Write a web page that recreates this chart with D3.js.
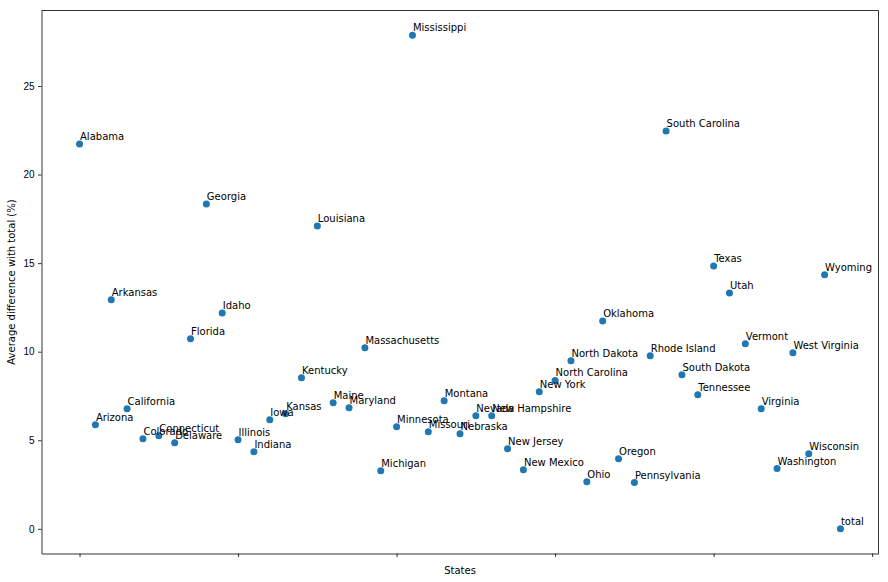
<!DOCTYPE html>
<html>
<head>
<meta charset="utf-8">
<script src="https://cdn.jsdelivr.net/npm/d3@7"></script>
<style>
	body { margin: 0; background: #fff; }
	svg { font-family: "DejaVu Sans", sans-serif; }
	.tick text { font-size: 10px; fill: #000; }
	.tick line, .domain { stroke: #000; stroke-width: 0.8; }
</style>
</head>
<body>
<div id="chart"></div>
<script>
// ---------- DATA ----------
const states = [
	"Alabama", "Arizona", "Arkansas", "California", "Colorado", "Connecticut",
	"Delaware", "Florida", "Georgia", "Idaho", "Illinois", "Indiana", "Iowa",
	"Kansas", "Kentucky", "Louisiana", "Maine", "Maryland", "Massachusetts",
	"Michigan", "Minnesota", "Mississippi", "Missouri", "Montana", "Nebraska",
	"Nevada", "New Hampshire", "New Jersey", "New Mexico", "New York",
	"North Carolina", "North Dakota", "Ohio", "Oklahoma", "Oregon",
	"Pennsylvania", "Rhode Island", "South Carolina", "South Dakota",
	"Tennessee", "Texas", "Utah", "Vermont", "Virginia", "Washington",
	"West Virginia", "Wisconsin", "Wyoming", "total",
];
const avgDiff = [
	21.73, 5.88, 12.93, 6.78, 5.09, 5.26,
	4.86, 10.73, 18.34, 12.19, 5.03, 4.35, 6.16,
	6.50, 8.53, 17.10, 7.12, 6.84, 10.22,
	3.28, 5.76, 27.87, 5.48, 7.23, 5.37,
	6.38, 6.38, 4.52, 3.34, 7.74,
	8.38, 9.49, 2.66, 11.74, 3.96,
	2.61, 9.77, 22.46, 8.70,
	7.57, 14.84, 13.32, 10.45, 6.78, 3.40,
	9.94, 4.24, 14.34, 0,
];
const xTicks = [0, 10, 20, 30, 40, 50];
const yTicks = [0, 5, 10, 15, 20, 25];

const size = { w: 888, h: 582 };
const margin = { top: 10.5, right: 9.5, bottom: 28.5, left: 41.5 };

const data = states.map((s, i) => ({ name: s, idx: i, val: avgDiff[i] }));

const svg = d3
	.select("#chart")
	.append("svg")
	.attr("width", size.w)
	.attr("height", size.h);

// matplotlib style 5% margins on both axes
const xPad = (states.length - 1) * 0.05;
const yMax = d3.max(avgDiff);
const yPad = yMax * 0.05;

const xScale = d3
	.scaleLinear()
	.domain([-xPad, states.length - 1 + xPad])
	.range([margin.left, size.w - margin.right]);

const yScale = d3
	.scaleLinear()
	.domain([-yPad, yMax + yPad])
	.range([size.h - margin.bottom, margin.top]);

// axes (tickSize first, it also sets the outer size)
svg.append("g")
	.attr("transform", `translate(0, ${size.h - margin.bottom})`)
	.call(d3.axisBottom(xScale).tickValues(xTicks).tickFormat("").tickSize(3.5).tickSizeOuter(0));

svg.append("g")
	.attr("transform", `translate(${margin.left}, 0)`)
	.call(d3.axisLeft(yScale).tickValues(yTicks).tickSize(3.5).tickSizeOuter(0).tickPadding(3.5));

// top + right spines
svg.append("line")
	.attr("x1", margin.left).attr("x2", size.w - margin.right)
	.attr("y1", margin.top).attr("y2", margin.top)
	.attr("stroke", "#000").attr("stroke-width", 0.8);
svg.append("line")
	.attr("x1", size.w - margin.right).attr("x2", size.w - margin.right)
	.attr("y1", margin.top).attr("y2", size.h - margin.bottom)
	.attr("stroke", "#000").attr("stroke-width", 0.8);

// points
svg.append("g")
	.selectAll("circle")
	.data(data)
	.enter()
	.append("circle")
	.attr("cx", (d) => xScale(d.idx))
	.attr("cy", (d) => yScale(d.val))
	.attr("r", 3.5)
	.attr("fill", "#1f77b4");

// annotations (overlaps kept as in the original)
svg.append("g")
	.selectAll("text")
	.data(data)
	.enter()
	.append("text")
	.attr("x", (d) => xScale(d.idx) + 0.5)
	.attr("y", (d) => yScale(d.val) - 4)
	.attr("font-size", 10)
	.attr("fill", "#000")
	.text((d) => d.name);

// axis labels
svg.append("text")
	.attr("x", (margin.left + size.w - margin.right) / 2)
	.attr("y", 574)
	.attr("text-anchor", "middle")
	.attr("font-size", 10)
	.text("States");

svg.append("text")
	.attr("transform", `translate(15, ${(margin.top + size.h - margin.bottom) / 2}) rotate(-90)`)
	.attr("text-anchor", "middle")
	.attr("font-size", 10)
	.text("Average difference with total (%)");
</script>
</body>
</html>
